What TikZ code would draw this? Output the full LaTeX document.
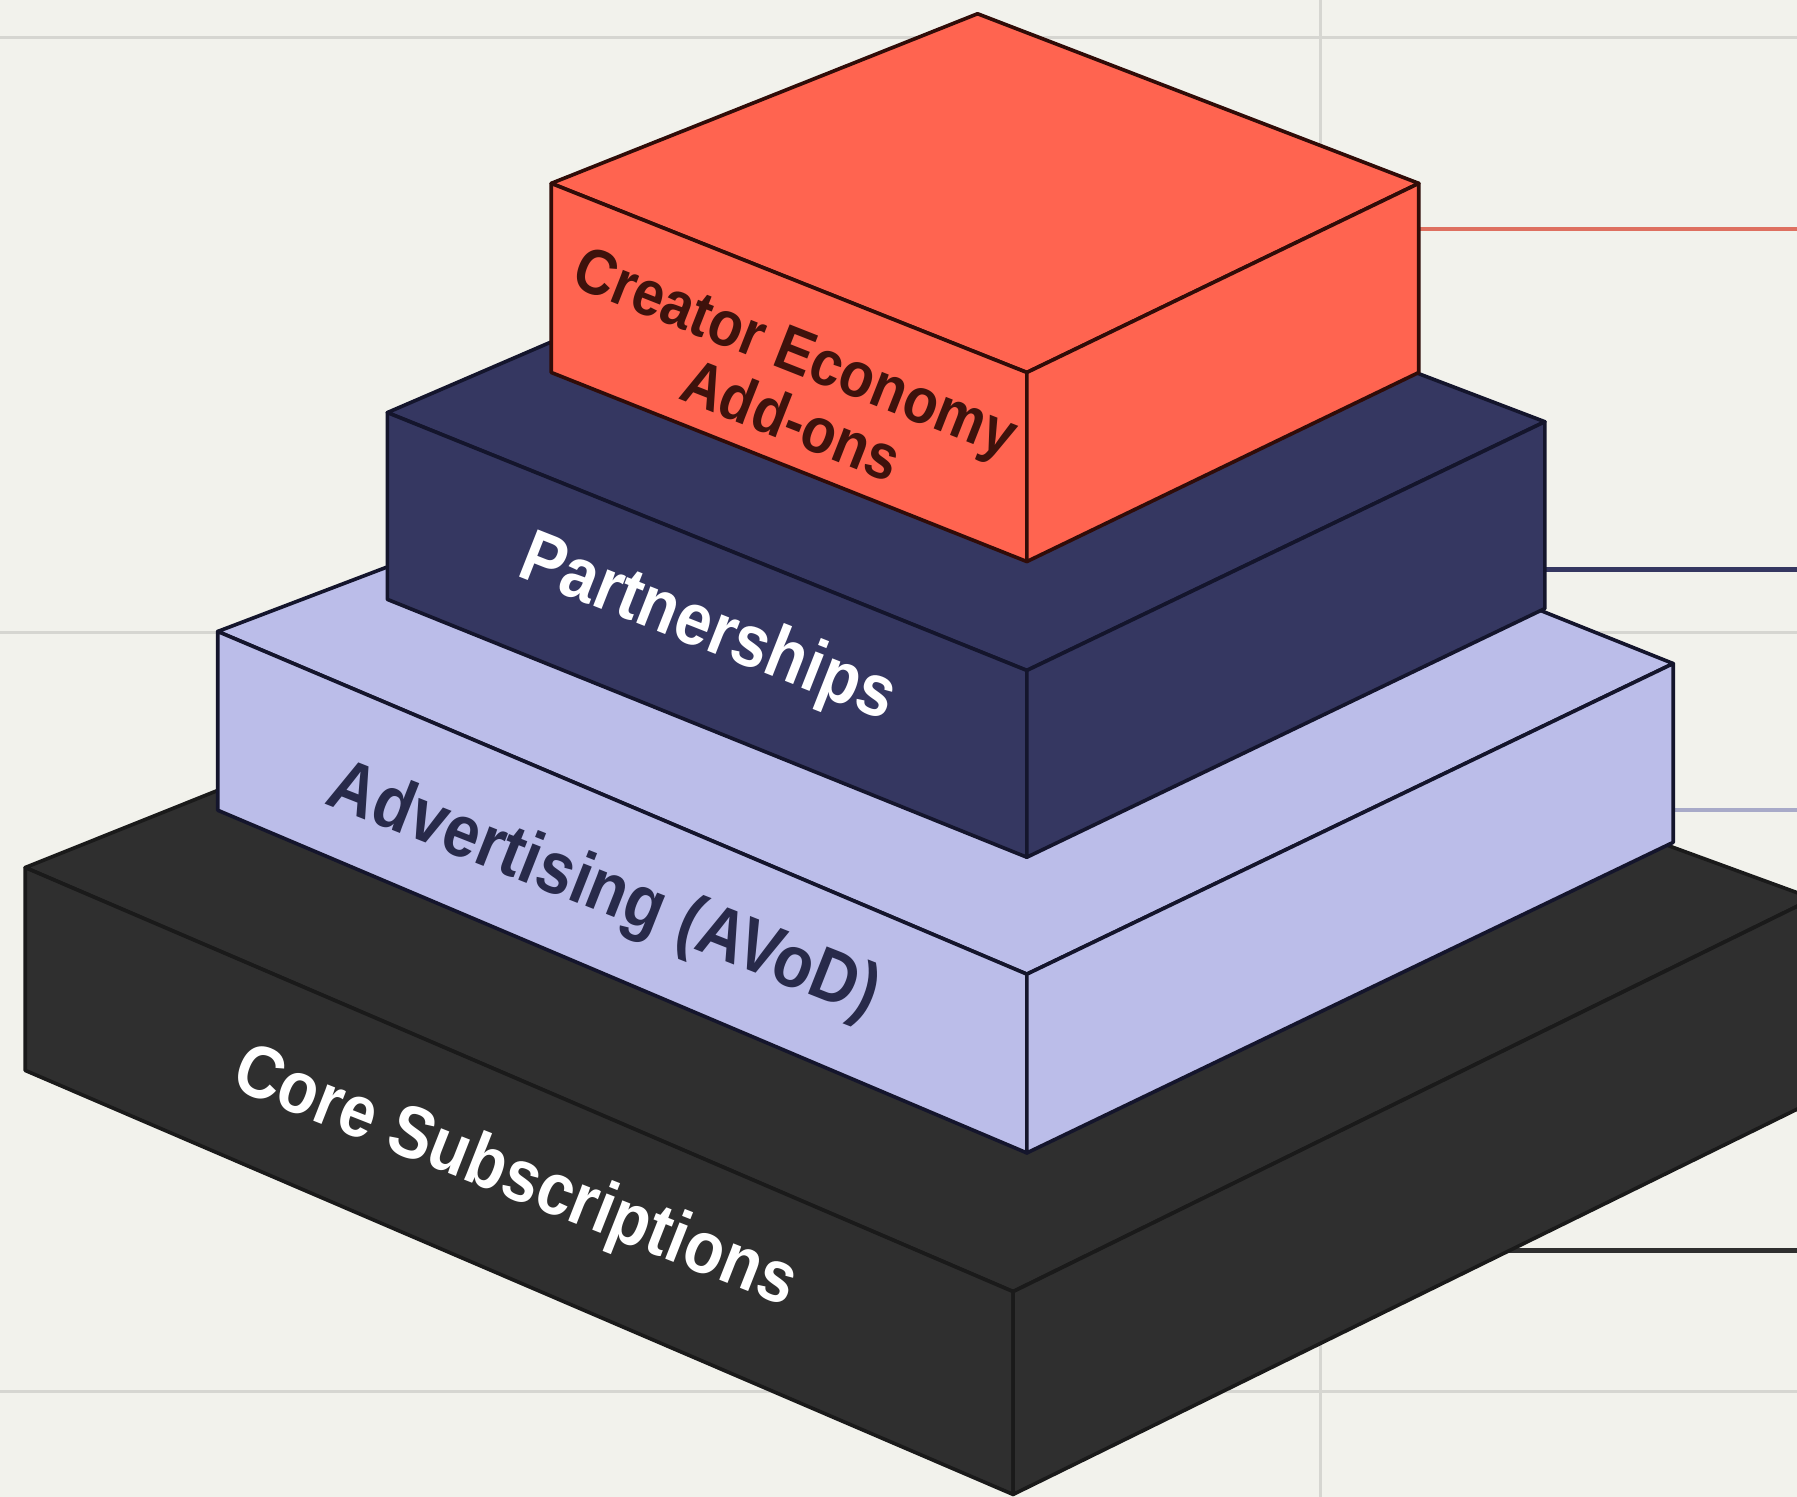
\documentclass[tikz,border=0pt]{standalone}
\usepackage{fontspec}
\setmainfont[FakeStretch=0.88]{Liberation Sans}
\usetikzlibrary{calc, backgrounds}

\definecolor{paper}{RGB}{242,242,236}
\definecolor{gridgray}{RGB}{214,214,209}
\definecolor{coral}{RGB}{255,100,80}
\definecolor{coraledge}{RGB}{48,12,8}
\definecolor{coraltext}{RGB}{62,18,12}
\definecolor{coralline}{RGB}{222,112,96}
\definecolor{navy}{RGB}{53,55,97}
\definecolor{navyedge}{RGB}{20,21,44}
\definecolor{lavender}{RGB}{187,189,233}
\definecolor{lavline}{RGB}{168,170,200}
\definecolor{lavtext}{RGB}{40,42,74}
\definecolor{charcoal}{RGB}{47,47,47}
\definecolor{charcoaledge}{RGB}{26,26,26}

\tikzset{face/.style={fill=#1, line width=0.9pt, line join=round},
    gridline/.style={draw=gridgray, line width=0.8pt},
    tie/.style={line width=1.1pt},
    tag/.style={font=\bfseries\fontsize{18.3}{20}\selectfont, rotate=-21.5, inner sep=0pt, align=center}}

% one slab: name, back, left, front, right corner of the top, height, fill, edge
\newcommand{\slab}[8]{%
    \coordinate (#1-t) at (#2);
    \coordinate (#1-l) at (#3);
    \coordinate (#1-f) at (#4);
    \coordinate (#1-r) at (#5);
    \coordinate (#1-lb) at ($(#1-l)+(0,#6)$);
    \coordinate (#1-fb) at ($(#1-f)+(0,#6)$);
    \coordinate (#1-rb) at ($(#1-r)+(0,#6)$);
    \filldraw[face=#7, draw=#8] (#1-t) -- (#1-l) -- (#1-f) -- (#1-r) -- cycle;
    \filldraw[face=#7, draw=#8] (#1-l) -- (#1-f) -- (#1-fb) -- (#1-lb) -- cycle;
    \filldraw[face=#7, draw=#8] (#1-f) -- (#1-r) -- (#1-rb) -- (#1-fb) -- cycle;
}

\begin{document}
\begin{tikzpicture}[x=0.01cm, y=-0.01cm]
    \useasboundingbox (0,0) rectangle (1568,1306);

    % the stack, bottom up
    \slab{core}{731,473}{22,757}{884,1127}{1582,784}{177}{charcoal}{charcoaledge}
    \slab{adv}{805,317}{190,551}{896,850}{1460,579}{156}{lavender}{navyedge}
    \slab{part}{802,160}{338,360}{896,585}{1348,368}{163}{navy}{navyedge}
    \slab{crea}{853,12}{481,160}{896,325}{1238,160}{165}{coral}{coraledge}

    \node[tag, text=coraltext, font=\bfseries\fontsize{15.9}{16.4}\selectfont] (crea-lbl) at (684,333)
        {Creator Economy\\\hspace*{0.37cm}Add-ons};
    \node[tag, text=white] (part-lbl) at (617,550) {Partnerships};
    \node[tag, text=lavtext] (adv-lbl) at (526,779) {Advertising (AVoD)};
    \node[tag, text=white] (core-lbl) at (449,1029) {Core Subscriptions};

    % ends of the leader lines on the right border
    \coordinate (crea-out) at (1568,200);
    \coordinate (part-out) at (1568,497);
    \coordinate (adv-out) at (1568,707);
    \coordinate (core-out) at (1568,1091);

    \begin{scope}[on background layer]
        \fill[paper] (0,0) rectangle (1568,1306);
        % grid
        \draw[gridline] (0,33) -- (1568,33);
        \draw[gridline] (0,552) -- (1568,552);
        \draw[gridline] (0,1214) -- (1568,1214);
        \draw[gridline] (1152,0) -- (1152,1306);
        % leaders, they start under the slabs
        \draw[tie, coralline] (crea-r |- crea-out) -- (crea-out);
        \draw[tie, navy] (part-r |- part-out) -- (part-out);
        \draw[tie, lavline] (adv-r |- adv-out) -- (adv-out);
        \draw[tie, charcoal] (core-fb |- core-out) -- (core-out);
    \end{scope}
\end{tikzpicture}
\end{document}
